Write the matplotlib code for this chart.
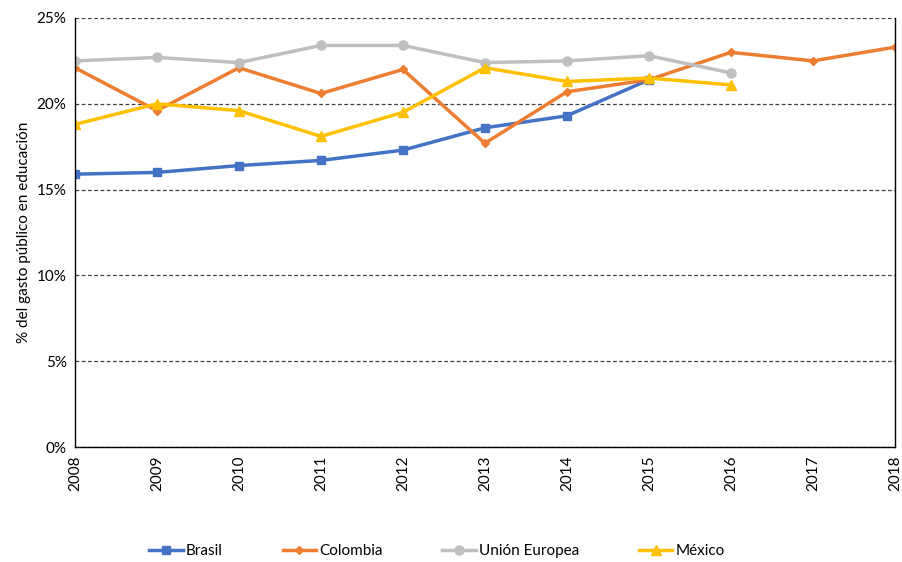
import numpy as np
import matplotlib
matplotlib.use("Agg")
import matplotlib.pyplot as plt
from matplotlib.ticker import PercentFormatter

plt.rcParams['font.family'] = ['Lato', 'DejaVu Sans']

years = [2008, 2009, 2010, 2011, 2012, 2013, 2014, 2015, 2016, 2017, 2018]
brasil = [15.9, 16.0, 16.4, 16.7, 17.3, 18.6, 19.3, 21.4]
colombia = [22.1, 19.6, 22.1, 20.6, 22.0, 17.7, 20.7, 21.4, 23.0, 22.5, 23.3]
union_europea = [22.5, 22.7, 22.4, 23.4, 23.4, 22.4, 22.5, 22.8, 21.8]
mexico = [18.8, 20.0, 19.6, 18.1, 19.5, 22.1, 21.3, 21.5, 21.1]

fig = plt.figure(figsize=(9.03, 5.62), dpi=100)
ax = fig.add_axes([0.083, 0.2046, 0.908, 0.7634])

ax.plot(years[:len(brasil)], brasil, color='#4472C4', marker='s', ms=6, lw=2.5, label='Brasil')
ax.plot(years[:len(colombia)], colombia, color='#ED7D31', marker='D', ms=4.5, lw=2.5, label='Colombia')
ax.plot(years[:len(union_europea)], union_europea, color='#BFBFBF', marker='o', ms=6.5, lw=2.5, label='Unión Europea')
ax.plot(years[:len(mexico)], mexico, color='#FFC000', marker='^', ms=7, lw=2.5, label='México')

ax.set_xlim(2008, 2018)
ax.set_ylim(0, 25)
ax.set_yticks(np.arange(0, 26, 5))
ax.yaxis.set_major_formatter(PercentFormatter(decimals=0))
ax.set_xticks(years)
ax.set_xticklabels([str(y) for y in years], rotation=90)
ax.tick_params(length=0, labelsize=11, pad=6)
ax.grid(axis='y', color='#404040', ls=(0, (3, 2)), lw=0.9)
ax.set_axisbelow(True)
ax.spines['top'].set_visible(False)
for s in ['left', 'right', 'bottom']:
    ax.spines[s].set_color('black')
    ax.spines[s].set_linewidth(1.0)
ax.set_ylabel('% del gasto público en educación', fontsize=11)

fig.legend(loc='lower center', bbox_to_anchor=(0.484, -0.018), ncol=4, frameon=False,
           fontsize=11, columnspacing=3.9, handlelength=2.2, handletextpad=0.2)

fig.savefig('out.png', dpi=100)
